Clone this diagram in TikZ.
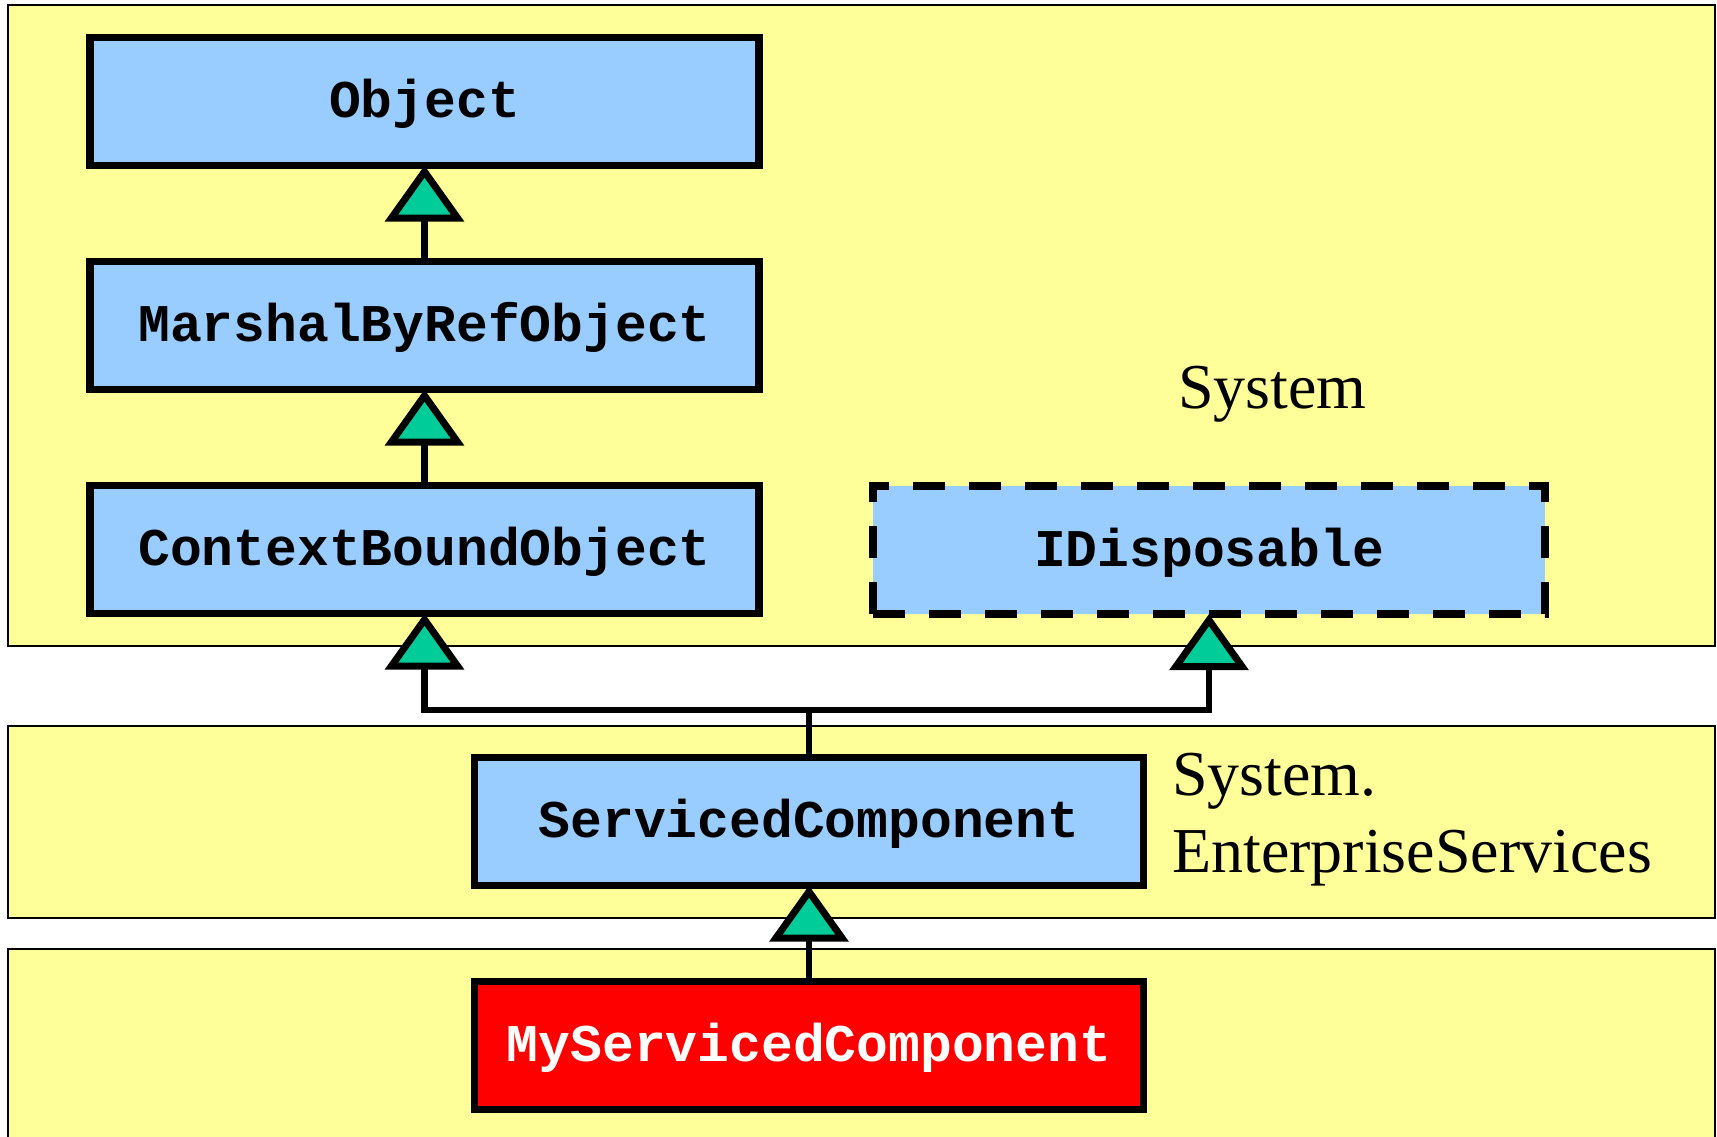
\documentclass[tikz,border=0pt]{standalone}
\usepackage{fontspec}
\setmainfont{Liberation Serif}
\setmonofont{Liberation Mono}
\usetikzlibrary{arrows.meta}
\definecolor{panelc}{HTML}{FFFF99}
\definecolor{clsc}{HTML}{99CCFF}
\definecolor{tric}{HTML}{00CC99}
\definecolor{minec}{HTML}{FF0000}
\begin{document}
\begin{tikzpicture}[x=1pt,y=-1pt,
  panel/.style={fill=panelc, draw=black, line width=2pt},
  clsbox/.style={draw, line width=7.5pt, fill=clsc, minimum width=669pt, minimum height=128pt,
    inner sep=0pt, outer sep=0pt, text height=36pt, text depth=4pt,
    font=\fontsize{53}{60}\selectfont\ttfamily\bfseries},
  ifacebox/.style={clsbox, dash pattern=on 32pt off 24pt, minimum width=672pt},
  minebox/.style={clsbox, fill=minec, text=white},
  inh/.style={draw, line width=6.5pt, -{Triangle[length=56pt,width=78pt,fill=tric,line width=7pt]}},
  nslabel/.style={font=\fontsize{64}{77}\selectfont, inner sep=0pt, align=left}
]
\useasboundingbox (0,0) rectangle (1717,1136);
% namespace panels
\path[panel] (8,5) rectangle (1715,646);
\path[panel] (8,726) rectangle (1715,918);
\path[panel] (8,949) rectangle (1715,1150);

% classes
\node[clsbox] (obj) at (424.5,101.5) {Object};
\node[clsbox] (mbr) at (424.5,325.5) {MarshalByRefObject};
\node[clsbox] (cbo) at (424.5,549.5) {ContextBoundObject};
\node[ifacebox] (idisp) at (1209,550) {IDisposable};
\node[clsbox] (svc) at (809,821.5) {ServicedComponent};
\node[minebox] (my) at (809,1045.5) {MyServicedComponent};

% namespace labels
\node[nslabel, anchor=base west] (sys) at (1178,408) {System};
\node[nslabel, anchor=base west] (ent) at (1172,872) {System.\\EnterpriseServices};

% inheritance
\coordinate (j) at (809,710);
\draw[inh] (mbr.north) -- (obj.south);
\draw[inh] (cbo.north) -- (mbr.south);
\draw[inh] (svc.north) -- (j) -| (cbo.south);
\draw[inh] (j) -| (idisp.south);
\draw[inh] (my.north) -- (svc.south);
\end{tikzpicture}
\end{document}
